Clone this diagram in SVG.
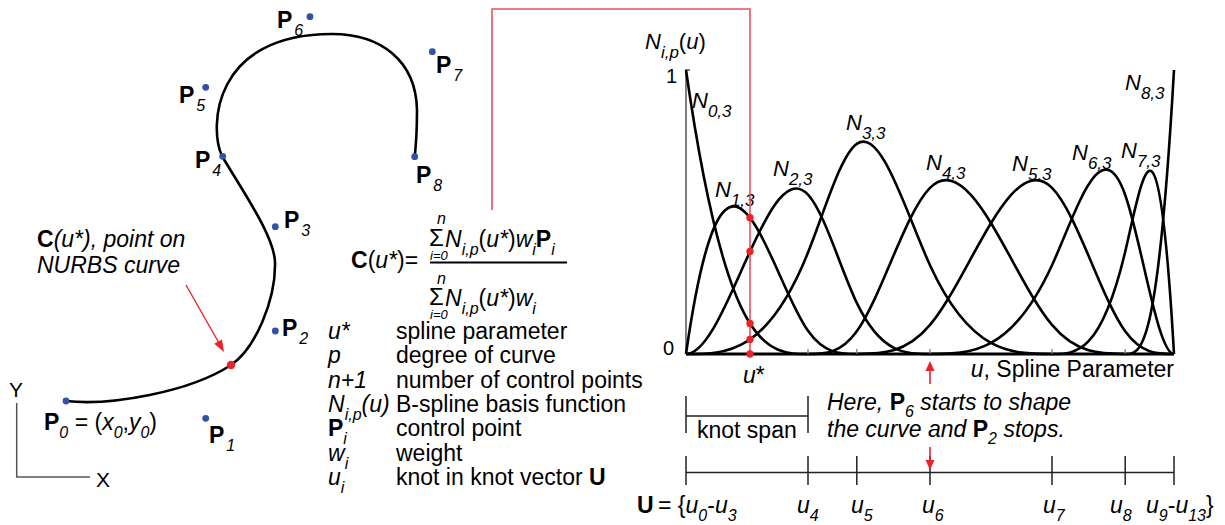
<svg xmlns="http://www.w3.org/2000/svg" width="1225" height="525" viewBox="0 0 1225 525">
<defs>
<style>
text{font-family:"Liberation Sans",Arial,sans-serif;font-size:23px;fill:#000}
.i{font-style:italic}
.b{font-weight:bold}
.s{font-size:16px;font-style:italic}
.n{font-size:22px;font-style:italic}
.ns{font-size:17px;font-style:italic}
.sg{font-size:24px}
.lim{font-size:13px;font-style:italic}
.cp{fill:#3352a6}
.rd{fill:#e8242a}
.bf{fill:none;stroke:#000;stroke-width:2.6;stroke-linejoin:round}
.ax{stroke:#555;stroke-width:1.5;fill:none}
.kl{stroke:#222;stroke-width:1.5;fill:none}
</style>
</defs>
<rect width="1225" height="525" fill="#fff"/>

<g id="xy-axes">
<path class="ax" d="M16.7,403 V477 H90"/>
<text x="9" y="397" style="font-size:21px">Y</text>
<text x="96" y="487" style="font-size:21px">X</text>
</g>

<g id="nurbs-curve">
<path class="bf" d="M66,401 C110,406 190,392 231,365 C255,349 276,300 275,262 C274,236 245,195 222,156 C209,128 212,34 332,34 C380,34 416,60 417,110 C417,125 416,145 414.7,157"/>
<circle class="rd" cx="231" cy="365" r="4.2"/>
</g>

<g id="control-points">
<circle class="cp" cx="66" cy="401" r="3.4"/>
<circle class="cp" cx="205.7" cy="418.3" r="3.4"/>
<circle class="cp" cx="275.3" cy="331" r="3.4"/>
<circle class="cp" cx="275.3" cy="226.7" r="3.4"/>
<circle class="cp" cx="222.7" cy="156.3" r="3.4"/>
<circle class="cp" cx="205.7" cy="87.3" r="3.4"/>
<circle class="cp" cx="310" cy="16.7" r="3.4"/>
<circle class="cp" cx="432.3" cy="51.7" r="3.4"/>
<circle class="cp" cx="414.7" cy="156.7" r="3.4"/>
<text x="44" y="430"><tspan class="b">P</tspan><tspan class="s" dy="8">0</tspan><tspan dy="-8"> = (</tspan><tspan class="i">x</tspan><tspan class="s" dy="8">0</tspan><tspan dy="-8">,</tspan><tspan class="i">y</tspan><tspan class="s" dy="8">0</tspan><tspan dy="-8">)</tspan></text>
<text x="209" y="443"><tspan class="b">P</tspan><tspan class="s" dy="8" dx="2">1</tspan></text>
<text x="282" y="336"><tspan class="b">P</tspan><tspan class="s" dy="8" dx="2">2</tspan></text>
<text x="284" y="228"><tspan class="b">P</tspan><tspan class="s" dy="8" dx="2">3</tspan></text>
<text x="195" y="168"><tspan class="b">P</tspan><tspan class="s" dy="8" dx="2">4</tspan></text>
<text x="179" y="103"><tspan class="b">P</tspan><tspan class="s" dy="8" dx="2">5</tspan></text>
<text x="277" y="28"><tspan class="b">P</tspan><tspan class="s" dy="8" dx="2">6</tspan></text>
<text x="436" y="73"><tspan class="b">P</tspan><tspan class="s" dy="8" dx="2">7</tspan></text>
<text x="416" y="183"><tspan class="b">P</tspan><tspan class="s" dy="8" dx="2">8</tspan></text>
</g>

<g id="point-label">
<text x="37" y="247"><tspan class="b">C</tspan><tspan class="i">(u*), point on</tspan></text>
<text x="37" y="273" class="i">NURBS curve</text>
</g>

<g id="formula">
<text x="351" y="268"><tspan class="b">C</tspan>(<tspan class="i">u*</tspan>)=</text>
<line x1="430" y1="262.5" x2="567" y2="262.5" stroke="#000" stroke-width="2"/>
<text x="437" y="224" class="s">n</text>
<text x="429" y="246" class="sg">Σ</text>
<text x="430" y="260" class="lim">i=0</text>
<text x="445" y="247"><tspan class="i">N</tspan><tspan class="s" dy="8">i,p</tspan><tspan dy="-8">(</tspan><tspan class="i">u*</tspan>)<tspan class="i">w</tspan><tspan class="s" dy="8">i</tspan><tspan class="b" dy="-8">P</tspan><tspan class="s" dy="8">i</tspan></text>
<text x="437" y="284" class="s">n</text>
<text x="429" y="305" class="sg">Σ</text>
<text x="430" y="319" class="lim">i=0</text>
<text x="445" y="306"><tspan class="i">N</tspan><tspan class="s" dy="8">i,p</tspan><tspan dy="-8">(</tspan><tspan class="i">u*</tspan>)<tspan class="i">w</tspan><tspan class="s" dy="8">i</tspan></text>
</g>

<g id="legend">
<text x="328" y="339" class="i">u*</text><text x="396" y="339">spline parameter</text>
<text x="328" y="363" class="i">p</text><text x="396" y="363">degree of curve</text>
<text x="328" y="388" class="i">n+1</text><text x="396" y="388">number of control points</text>
<text x="328" y="412"><tspan class="i">N</tspan><tspan class="s" dy="8">i,p</tspan><tspan class="i" dy="-8">(u)</tspan></text><text x="396" y="412">B-spline basis function</text>
<text x="328" y="436"><tspan class="b">P</tspan><tspan class="s" dy="8">i</tspan></text><text x="396" y="436">control point</text>
<text x="328" y="461"><tspan class="i">w</tspan><tspan class="s" dy="8">i</tspan></text><text x="396" y="461">weight</text>
<text x="328" y="485"><tspan class="i">u</tspan><tspan class="s" dy="8">i</tspan></text><text x="396" y="485">knot in knot vector <tspan class="b">U</tspan></text>
</g>

<g id="basis-chart">
<path class="ax" d="M690,70 H686 V354"/>
<text x="666" y="83" style="font-size:20px">1</text>
<text x="663" y="355" style="font-size:20px">0</text>
<text x="645" y="49"><tspan class="n">N</tspan><tspan class="ns" dy="9">i,p</tspan><tspan dy="-9" style="font-size:22px">(</tspan><tspan class="n">u</tspan><tspan style="font-size:22px">)</tspan></text>
<g class="bf">
<path d="M686,70 C726.67,354 767.33,354 808,354"/>
<path d="M686,354 C726.67,70 767.33,272.86 808,330.83 C824.27,354 840.53,354 856.8,354"/>
<path d="M686,354 C726.67,354 767.33,151.14 808,194.62 C824.27,212 840.53,268.8 856.8,302.88 C881.2,354 905.6,354 930,354"/>
<path d="M686,354 C726.67,354 767.33,354 808,252.58 C824.27,212 840.53,155.2 856.8,143.84 C881.2,126.8 905.6,212 930,265.25 C970.67,354 1011.33,354 1052,354"/>
<path d="M808,354 C824.27,354 840.53,354 856.8,331.28 C881.2,297.2 905.6,212 930,187.8 C970.67,147.45 1011.33,276.55 1052,324.95 C1076.4,354 1100.8,354 1125.2,354"/>
<path d="M856.8,354 C881.2,354 905.6,354 930,324.95 C970.67,276.55 1011.33,147.45 1052,187.8 C1076.4,212 1100.8,297.2 1125.2,331.28 C1141.47,354 1157.73,354 1174,354"/>
<path d="M930,354 C970.67,354 1011.33,354 1052,265.25 C1076.4,212 1100.8,126.8 1125.2,194.96 C1141.47,240.4 1157.73,354 1174,354"/>
<path d="M1052,354 C1076.4,354 1100.8,354 1125.2,251.76 C1141.47,183.6 1157.73,70 1174,354"/>
<path d="M1125.2,354 C1141.47,354 1157.73,354 1174,70"/>
</g>
<line x1="686" y1="354" x2="1174" y2="354" stroke="#000" stroke-width="3"/>
<path stroke="#777" stroke-width="1.2" d="M808,354 V349 M856.8,354 V349 M930,354 V349 M1052,354 V349 M1125.2,354 V349"/>
<text x="692" y="108"><tspan class="n">N</tspan><tspan class="ns" dy="9">0,3</tspan></text>
<text x="715" y="197"><tspan class="n">N</tspan><tspan class="ns" dy="9">1,3</tspan></text>
<text x="773" y="176"><tspan class="n">N</tspan><tspan class="ns" dy="9">2,3</tspan></text>
<text x="846" y="130"><tspan class="n">N</tspan><tspan class="ns" dy="9">3,3</tspan></text>
<text x="926" y="170"><tspan class="n">N</tspan><tspan class="ns" dy="9">4,3</tspan></text>
<text x="1012" y="171"><tspan class="n">N</tspan><tspan class="ns" dy="9">5,3</tspan></text>
<text x="1072" y="160"><tspan class="n">N</tspan><tspan class="ns" dy="9">6,3</tspan></text>
<text x="1121" y="158"><tspan class="n">N</tspan><tspan class="ns" dy="9">7,3</tspan></text>
<text x="1125" y="90"><tspan class="n">N</tspan><tspan class="ns" dy="9">8,3</tspan></text>
<text x="743" y="383"><tspan class="i">u</tspan>*</text>
<text x="1174" y="377" text-anchor="end"><tspan class="i">u</tspan>, Spline Parameter</text>
</g>

<g id="knot-span">
<path class="kl" d="M686,396 V433 M808,396 V433 M686,416 H808"/>
<text x="697" y="438">knot span</text>
</g>

<g id="note">
<text x="827" y="410" class="i">Here, <tspan class="b" style="font-style:normal">P</tspan><tspan class="s" dy="7">6</tspan><tspan dy="-7"> starts to shape</tspan></text>
<text x="827" y="437" class="i">the curve and <tspan class="b" style="font-style:normal">P</tspan><tspan class="s" dy="7">2</tspan><tspan dy="-7"> stops.</tspan></text>
</g>

<g id="knot-vector">
<line class="kl" x1="686" y1="472.5" x2="1174" y2="472.5"/>
<path class="kl" d="M686,456 V485 M808,456 V485 M856.8,456 V485 M930,456 V485 M1052,456 V485 M1125.2,456 V485 M1174,456 V485"/>
<text x="637" y="513"><tspan class="b">U</tspan><tspan dx="-2"> = {</tspan><tspan class="i">u</tspan><tspan class="s" dy="8">0</tspan><tspan dy="-8">-</tspan><tspan class="i">u</tspan><tspan class="s" dy="8">3</tspan></text>
<text x="797" y="513"><tspan class="i">u</tspan><tspan class="s" dy="8">4</tspan></text>
<text x="851" y="513"><tspan class="i">u</tspan><tspan class="s" dy="8">5</tspan></text>
<text x="922" y="513"><tspan class="i">u</tspan><tspan class="s" dy="8">6</tspan></text>
<text x="1043" y="513"><tspan class="i">u</tspan><tspan class="s" dy="8">7</tspan></text>
<text x="1110" y="513"><tspan class="i">u</tspan><tspan class="s" dy="8">8</tspan></text>
<text x="1146" y="513"><tspan class="i">u</tspan><tspan class="s" dy="8">9</tspan><tspan dy="-8">-</tspan><tspan class="i">u</tspan><tspan class="s" dy="8">13</tspan><tspan dy="-8">}</tspan></text>
</g>

<g id="connectors">
<path d="M492,210 V9 H750 V354" fill="none" stroke="#e8505c" stroke-width="1.6"/>
<g class="rd">
<circle cx="750" cy="217.8" r="3.7"/>
<circle cx="750" cy="251.4" r="3.7"/>
<circle cx="750" cy="323.5" r="3.7"/>
<circle cx="750" cy="339.4" r="3.7"/>
<circle cx="750" cy="354" r="3.7"/>
</g>
<line x1="186" y1="285" x2="219" y2="343" stroke="#e8242a" stroke-width="1.4"/>
<polygon class="rd" points="224,352 214.2,343.8 222,339.4"/>
<line x1="930" y1="370" x2="930" y2="384" stroke="#e8242a" stroke-width="1.6"/>
<polygon class="rd" points="930,361 925.5,371 934.5,371"/>
<line x1="930" y1="447" x2="930" y2="461" stroke="#e8242a" stroke-width="1.6"/>
<polygon class="rd" points="930,470 925.5,460 934.5,460"/>
</g>
</svg>
